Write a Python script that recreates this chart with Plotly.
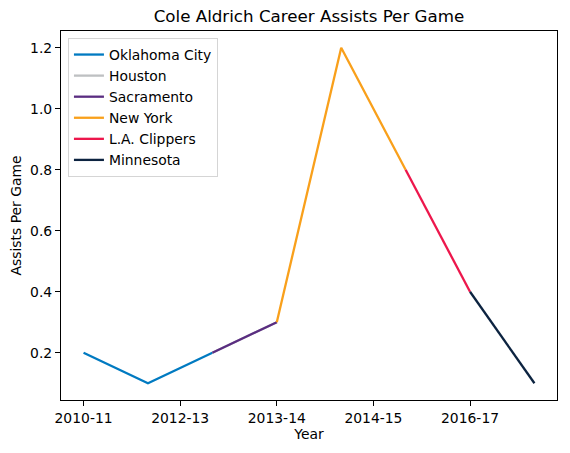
import plotly.graph_objects as go

# ─── DATOS ──────────────────────────────────────────────────
assists = [0.2, 0.1, 0.2, 0.3, 1.2, 0.8, 0.4, 0.1]
teams = ["Oklahoma City", "Houston", "Sacramento", "New York", "L.A. Clippers", "Minnesota"]
team_spans = [(0, 2), (2, 3), (2, 3), (3, 5), (5, 6), (6, 7)]
team_colors = ["#007AC1", "#BEC0C2", "#5A2D81", "#F9A01B", "#ED174C", "#0C2340"]
tick_pos = [0, 1.5, 3, 4.5, 6]
tick_labels = ["2010-11", "2012-13", "2013-14", "2014-15", "2016-17"]

# ─── FIGURA ─────────────────────────────────────────────────
fig = go.Figure()
for team, (a, b), color in zip(teams, team_spans, team_colors):
    xs = list(range(a, b + 1))
    fig.add_trace(go.Scatter(
        x=xs, y=[assists[i] for i in xs], mode="lines", name=team,
        line=dict(color=color, width=2.3)
    ))

axis_style = dict(
    showline=True, linecolor="black", linewidth=1.1, mirror=True,
    ticks="outside", ticklen=5, tickwidth=1.1, tickcolor="black", showgrid=False,
    zeroline=False, tickfont=dict(size=13.9, color="black"), automargin=False,
)

fig.update_layout(
    width=570, height=453,
    plot_bgcolor="white", paper_bgcolor="white",
    font=dict(family="DejaVu Sans", size=13.9, color="black"),
    margin=dict(l=61, r=13, t=31, b=53),
    title=dict(text="Cole Aldrich Career Assists Per Game", x=0.542, xanchor="center",
               y=1 - 16 / 453, yanchor="middle", font=dict(size=16.7)),
    xaxis=dict(axis_style, range=[-0.35, 7.35], tickvals=tick_pos, ticktext=tick_labels,
               title=dict(text="Year", standoff=3, font=dict(size=13.9))),
    yaxis=dict(axis_style, range=[0.045, 1.255], tickvals=[0.2, 0.4, 0.6, 0.8, 1.0, 1.2],
               tickformat=".1f",
               title=dict(text="Assists Per Game", standoff=5, font=dict(size=13.9))),
    legend=dict(x=0.014, y=0.981, xanchor="left", yanchor="top",
                bordercolor="#D5D5D5", borderwidth=1, bgcolor="rgba(255,255,255,0.8)",
                font=dict(size=13.9), tracegroupgap=0, itemwidth=30),
    showlegend=True,
)

# quitar el margen por defecto del body para que la figura quede en (0,0)
fig.write_html("out.html", config={"displayModeBar": False},
               post_script="document.body.style.margin='0';")
